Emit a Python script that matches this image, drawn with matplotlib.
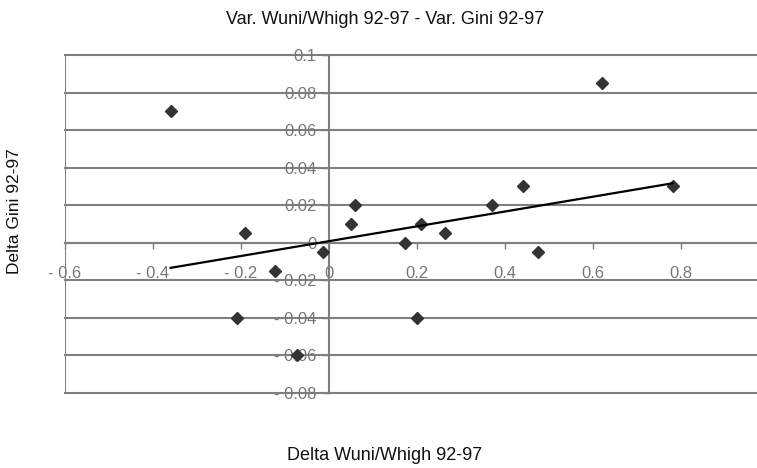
import matplotlib.pyplot as plt
import numpy as np
from matplotlib.ticker import FuncFormatter

plt.rcParams['font.family'] = ['Liberation Sans', 'DejaVu Sans']

# Delta Wuni/Whigh 92-97 (x) and Delta Gini 92-97 (y)
delta_wuni = [-0.36, -0.19, -0.21, -0.123, -0.073, -0.013, 0.049, 0.059, 0.173,
              0.208, 0.199, 0.264, 0.37, 0.442, 0.474, 0.62, 0.781]
delta_gini = [0.07, 0.005, -0.04, -0.015, -0.06, -0.005, 0.01, 0.02, 0.0,
              0.01, -0.04, 0.005, 0.02, 0.03, -0.005, 0.085, 0.03]

x_ticks = [-0.6, -0.4, -0.2, 0, 0.2, 0.4, 0.6, 0.8]
y_ticks = [-0.08, -0.06, -0.04, -0.02, 0, 0.02, 0.04, 0.06, 0.08, 0.1]


def excel_fmt(v, pos=None):
    if abs(v) < 1e-12:
        return '0'
    s = ('%.2f' % abs(v)).rstrip('0')
    return ('- ' + s) if v < 0 else s


if __name__ == '__main__':
    fig = plt.figure(figsize=(7.57, 4.68), dpi=100)
    ax = fig.add_axes([65 / 757, 1 - 393 / 468, 704 / 757, 338 / 468])

    grid_col = '#7f7f7f'
    ax.set_xlim(-0.6, 1.0)
    ax.set_ylim(-0.08, 0.1)

    # horizontal gridlines and left border like Excel
    for yv in y_ticks:
        ax.axhline(yv, color=grid_col, lw=1.5, zorder=1, clip_on=False)
    ax.axvline(-0.6, color=grid_col, lw=1.5, zorder=1)

    # axes crossing at origin
    ax.spines['top'].set_visible(False)
    ax.spines['right'].set_visible(False)
    ax.spines['left'].set_position(('data', 0))
    ax.spines['bottom'].set_position(('data', 0))
    ax.spines['left'].set_color(grid_col)
    ax.spines['bottom'].set_color(grid_col)
    ax.spines['left'].set_linewidth(1.5)
    ax.spines['bottom'].set_linewidth(1.5)

    ax.set_xticks(x_ticks)
    ax.set_yticks(y_ticks)
    ax.xaxis.set_major_formatter(FuncFormatter(excel_fmt))
    ax.yaxis.set_major_formatter(FuncFormatter(excel_fmt))
    ax.tick_params(axis='x', direction='out', length=4, width=1, color=grid_col,
                   pad=13, labelsize=12, labelcolor='#777777')
    ax.tick_params(axis='y', direction='out', length=5, width=1, color=grid_col,
                   pad=4, labelsize=12, labelcolor='#777777')

    # data points
    ax.plot(delta_wuni, delta_gini, linestyle='none', marker='D', markersize=6,
            color='#333333', zorder=4, clip_on=False)

    # linear trend line
    slope, intercept = np.polyfit(delta_wuni, delta_gini, 1)
    xs = np.array([min(delta_wuni), max(delta_wuni)])
    ax.plot(xs, slope * xs + intercept, color='black', lw=1.6, zorder=5)

    fig.text(385 / 757, 1 - 20 / 468, 'Var. Wuni/Whigh 92-97 - Var. Gini 92-97',
             ha='center', va='center', fontsize=13, color='#111111')
    fig.text(385 / 757, 1 - 456 / 468, 'Delta Wuni/Whigh 92-97',
             ha='center', va='center', fontsize=13, color='#111111')
    fig.text(15 / 757, 1 - 211 / 468, 'Delta Gini 92-97', rotation=90,
             ha='center', va='center', fontsize=12.5, color='#111111')

    plt.savefig('out.png', dpi=100)
    plt.close()
